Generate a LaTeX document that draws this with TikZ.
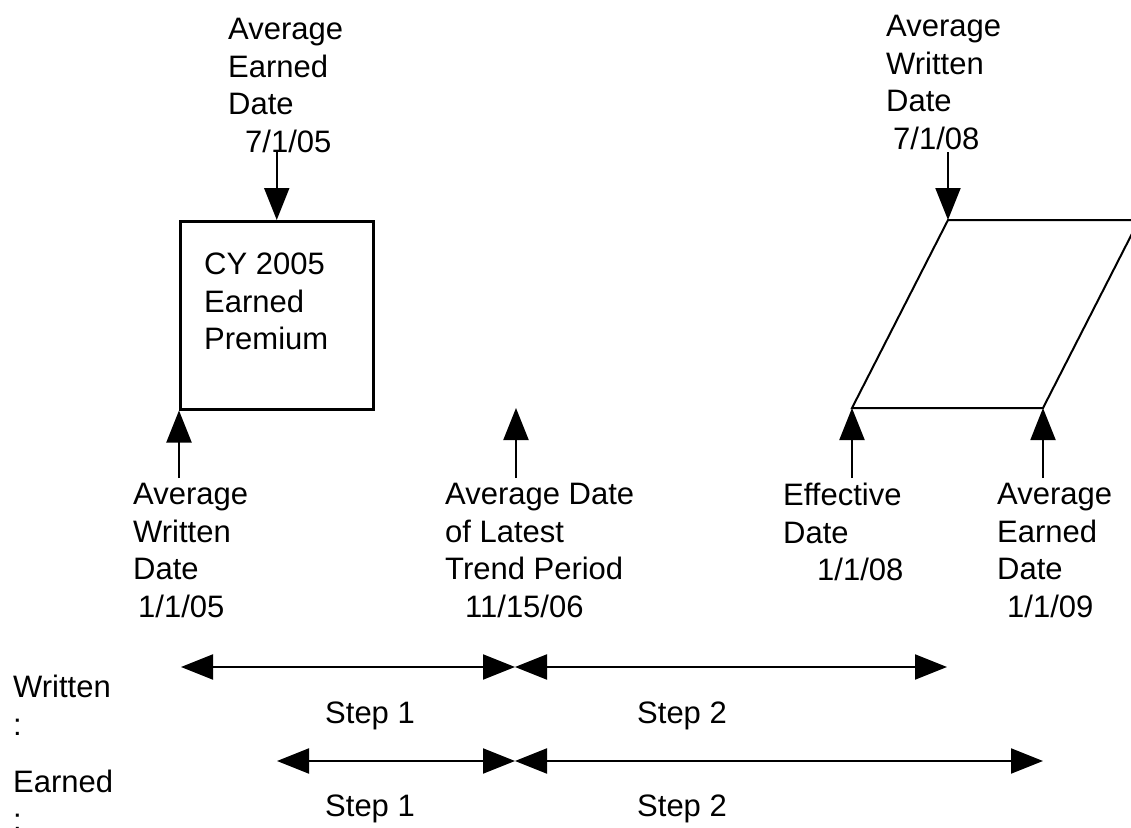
\documentclass[tikz,border=0pt]{standalone}
\usepackage{fontspec}
\setmainfont{Liberation Sans}
\usetikzlibrary{arrows.meta}
\begin{document}
\begin{tikzpicture}[x=1pt,y=-1pt,
  lbl/.style={anchor=north west,inner sep=0pt,align=left,
    font=\fontsize{31}{37.5}\selectfont},
  arr/.style={line width=2pt,-{Triangle[length=32pt,width=25pt]}},
  darr/.style={line width=2pt,{Triangle[length=32pt,width=25pt]}-{Triangle[length=32pt,width=25pt]}},
  boxline/.style={line width=2.5pt}]
\useasboundingbox (0,0) rectangle (1131,827);
\clip (0,0) rectangle (1131,827);

% CY 2005 box
\node[boxline,draw,minimum width=193pt,minimum height=188pt,inner sep=0pt,anchor=north west] (box) at (179,220) {};
\node[lbl] (boxtxt) at (204,253) {CY 2005\\Earned\\Premium};

% parallelogram
\coordinate (p1) at (948,220);
\coordinate (p2) at (1139,220);
\coordinate (p3) at (1043,408);
\coordinate (p4) at (852,408);
\draw[line width=2pt,line join=miter] (p1) -- (p2) -- (p3) -- (p4) -- cycle;

% top labels
\node[lbl] (aed) at (228,18) {Average\\Earned\\Date\\\hspace*{17pt}7/1/05};
\node[lbl] (awd) at (886,15) {Average\\Written\\Date\\\hspace*{7pt}7/1/08};

\draw[arr] (box.north |- 0,152) -- (box.north);
\draw[arr] (p1 |- 0,152) -- (p1);

% bottom labels
\node[lbl] (awd05) at (133,483) {Average\\Written\\Date\\\hspace*{5pt}1/1/05};
\node[lbl] (trend) at (445,483) {Average Date\\of Latest\\Trend Period\\\hspace*{20pt}11/15/06};
\node[lbl] (eff) at (783,483) {Effective\\Date\\\hspace*{34pt}1/1/08};
\node[lbl] (aed09) at (997,483) {Average\\Earned\\Date\\\hspace*{10pt}1/1/09};

\coordinate (b1) at (179,478);
\coordinate (b2) at (516,478);
\coordinate (b2t) at (516,408);
\coordinate (b3) at (852,478);
\coordinate (b4) at (1043,478);
\draw[arr] (b1) -- (box.south west);
\draw[arr] (b2) -- (b2t);
\draw[arr] (b3) -- (p4);
\draw[arr] (b4) -- (p3);

% timelines
\node[lbl] (wr) at (13,675) {Written\\:};
\node[lbl] (ea) at (13,770) {Earned\\:};

\coordinate (w0) at (181,667);
\coordinate (w1) at (515,667);
\coordinate (w2) at (947,667);
\coordinate (e0) at (277,761);
\coordinate (e1) at (515,761);
\coordinate (e2) at (1043,761);
\draw[darr] (w0) -- (w1);
\draw[darr] (w1) -- (w2);
\draw[darr] (e0) -- (e1);
\draw[darr] (e1) -- (e2);

\node[lbl] (ws1) at (325,702) {Step 1};
\node[lbl] (ws2) at (637,702) {Step 2};
\node[lbl] (es1) at (325,795) {Step 1};
\node[lbl] (es2) at (637,795) {Step 2};
\end{tikzpicture}
\end{document}
